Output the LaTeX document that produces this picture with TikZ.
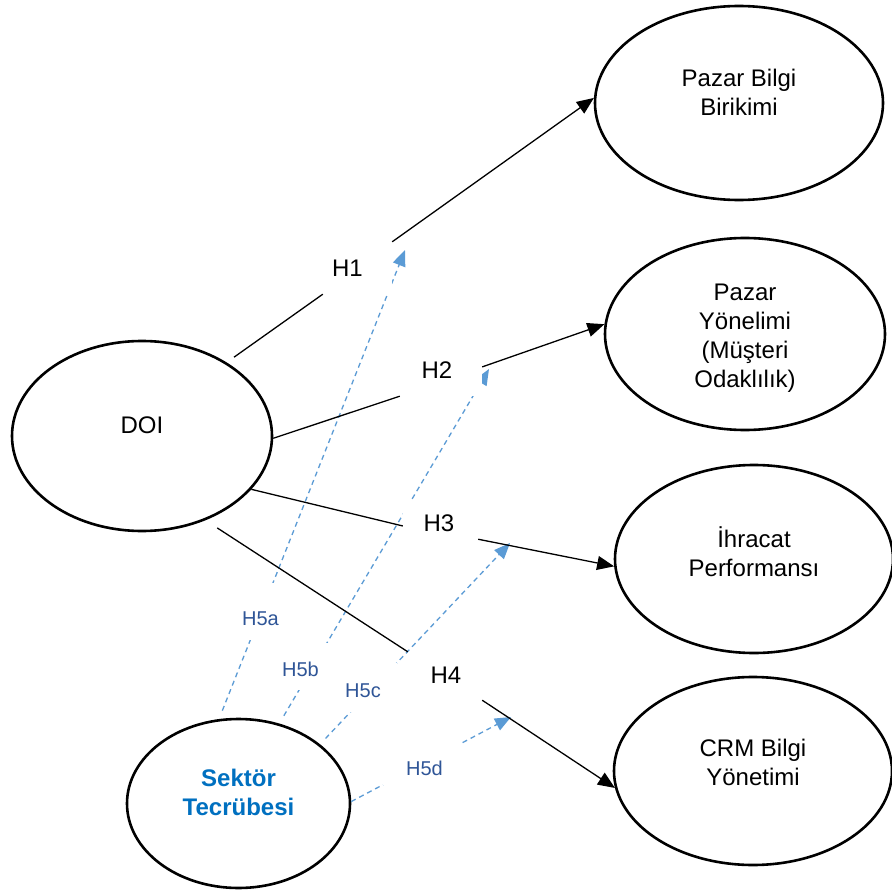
\documentclass[tikz,border=0pt]{standalone}
\usepackage{fontspec}
\setmainfont{Liberation Sans}
\usetikzlibrary{arrows.meta,shapes.geometric}
\definecolor{sekblue}{RGB}{0,112,192}
\definecolor{hypblue}{RGB}{47,85,151}
\definecolor{dashblue}{RGB}{91,155,213}

\begin{document}
\begin{tikzpicture}[x=1pt,y=-1pt,
  construct/.style={ellipse, draw=black, line width=2.6pt, fill=white, inner sep=0pt},
  ctext/.style={font=\fontsize{24}{29}\selectfont, align=center, inner sep=0pt},
  hbox/.style={rectangle, fill=white, inner sep=0pt},
  htext/.style={font=\fontsize{24}{29}\selectfont, text=black, inner sep=0pt},
  mtext/.style={font=\fontsize{20}{24}\selectfont, text=hypblue, inner sep=0pt},
  link/.style={draw=black, line width=1.3pt},
  linkarrow/.style={link, -{Triangle[length=17pt,width=14pt]}},
  moderate/.style={draw=dashblue, line width=1.3pt, dash pattern=on 5pt off 4pt,
                   -{Triangle[length=16pt,width=13pt]}}
]
\fill[white] (0,0) rectangle (892,891);
\useasboundingbox (0,0) rectangle (892,891);

% constructs
\node[construct, minimum width=260pt, minimum height=190pt,
      label={[ctext, yshift=11pt]center:DOI}] (doi) at (142,436) {};
\node[construct, minimum width=288pt, minimum height=194pt,
      label={[ctext, yshift=10.5pt]center:{Pazar Bilgi\\Birikimi}}] (p1) at (739,103) {};
\node[construct, minimum width=280pt, minimum height=192pt,
      label={[ctext, yshift=-4.5pt]center:{Pazar\\Yönelimi\\(Müşteri\\Odaklılık)}}] (p2) at (745,334) {};
\node[construct, minimum width=278pt, minimum height=188pt,
      label={[ctext, yshift=7pt]center:{İhracat\\Performansı}}] (e3) at (754,559) {};
\node[construct, minimum width=278pt, minimum height=188pt,
      label={[ctext, yshift=8.5pt]center:{CRM Bilgi\\Yönetimi}}] (e4) at (753,771) {};
\node[construct, minimum width=223pt, minimum height=169pt,
      label={[ctext, text=sekblue, font=\fontsize{24}{29}\selectfont\bfseries, yshift=11pt]center:{Sektör\\Tecrübesi}}] (sek) at (238.5,803.5) {};

% moderating effects (dashed)
\coordinate (t5a) at (405,250);
\coordinate (t5b) at (489,369);
\coordinate (t5c) at (510,543);
\coordinate (t5d) at (511,717);
\draw[moderate, shorten <=9pt] (sek.103) -- (t5a);
\draw[moderate, shorten <=9pt] (sek.63) -- (t5b);
\draw[moderate, shorten <=8pt] (sek.36) -- (t5c);
\draw[moderate] (sek.1) -- (t5d);

% hypothesis labels
\node[hbox, minimum width=69pt, minimum height=52pt,
      label={[htext, xshift=-10pt]center:H1}] (h1) at (357.5,268) {};
\node[hbox, minimum width=82pt, minimum height=51pt,
      label={[htext, xshift=-4pt]center:H2}] (h2) at (441,370.5) {};
\node[hbox, minimum width=75pt, minimum height=48pt,
      label={[htext, xshift=-1.5pt, yshift=1pt]center:H3}] (h3) at (440.5,524) {};
\node[hbox, minimum width=74pt, minimum height=48pt,
      label={[htext, xshift=1pt, yshift=1pt]center:H4}] (h4) at (445,676) {};

\node[hbox, minimum width=50pt, minimum height=57pt,
      label={[mtext, xshift=-1pt, yshift=-7.5pt]center:H5a}] (m5a) at (261.5,611.5) {};
\node[hbox, minimum width=50pt, minimum height=47pt,
      label={[mtext, xshift=-9.5pt, yshift=-2.5pt]center:H5b}] (m5b) at (310,666.5) {};
\node[hbox, minimum width=62pt, minimum height=49pt,
      label={[mtext, xshift=-3pt, yshift=-3.5pt]center:H5c}] (m5c) at (366,687.5) {};
\node[hbox, minimum width=77pt, minimum height=44pt,
      label={[mtext, xshift=3pt, yshift=-5.5pt]center:H5d}] (m5d) at (421.5,762.5) {};

% direct effects
\draw[link, shorten <=9pt] (doi.41) -- (h1.south west);
\draw[linkarrow] (h1.north east) -- (p1.178);
\draw[link] (doi.-1) -- (h2.south west);
\draw[linkarrow] (h2.5) -- (p2.176);
\draw[link] (doi.-26) -- (h3.183);
\draw[linkarrow] (h3.-22) -- (e3.183);
\draw[link, shorten <=14pt] (doi.-53) -- (h4.north west);
\draw[linkarrow] (h4.south east) -- (e4.187);
\end{tikzpicture}
\end{document}
